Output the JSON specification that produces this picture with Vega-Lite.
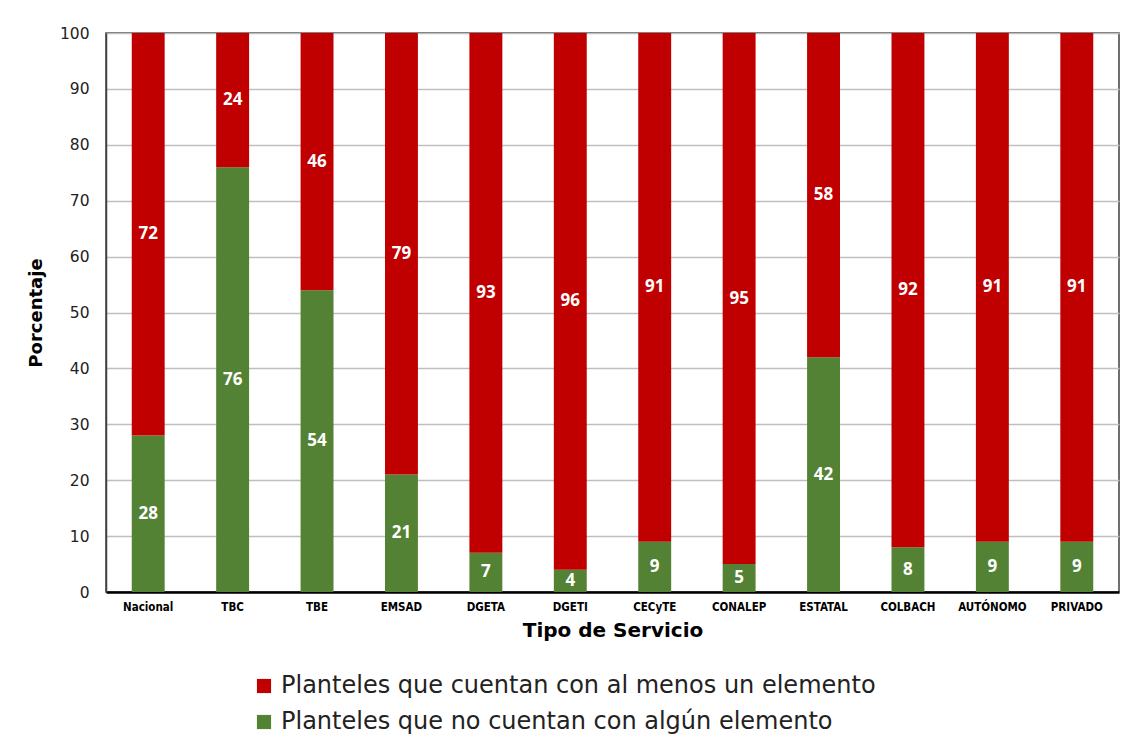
{
  "$schema": "https://vega.github.io/schema/vega-lite/v6.json",
  "width": 1013,
  "height": 559,
  "autosize": {"type": "none"},
  "padding": {"left": 106, "top": 33, "right": 3, "bottom": 153},
  "background": "white",
  "config": {
    "view": {"stroke": "#404040", "strokeWidth": 1.5},
    "font": "DejaVu Sans"
  },
  "data": {
    "values": [
      {"servicio": "Nacional", "serie": "Planteles que no cuentan con algún elemento", "valor": 28},
      {"servicio": "Nacional", "serie": "Planteles que cuentan con al menos un elemento", "valor": 72},
      {"servicio": "TBC", "serie": "Planteles que no cuentan con algún elemento", "valor": 76},
      {"servicio": "TBC", "serie": "Planteles que cuentan con al menos un elemento", "valor": 24},
      {"servicio": "TBE", "serie": "Planteles que no cuentan con algún elemento", "valor": 54},
      {"servicio": "TBE", "serie": "Planteles que cuentan con al menos un elemento", "valor": 46},
      {"servicio": "EMSAD", "serie": "Planteles que no cuentan con algún elemento", "valor": 21},
      {"servicio": "EMSAD", "serie": "Planteles que cuentan con al menos un elemento", "valor": 79},
      {"servicio": "DGETA", "serie": "Planteles que no cuentan con algún elemento", "valor": 7},
      {"servicio": "DGETA", "serie": "Planteles que cuentan con al menos un elemento", "valor": 93},
      {"servicio": "DGETI", "serie": "Planteles que no cuentan con algún elemento", "valor": 4},
      {"servicio": "DGETI", "serie": "Planteles que cuentan con al menos un elemento", "valor": 96},
      {"servicio": "CECyTE", "serie": "Planteles que no cuentan con algún elemento", "valor": 9},
      {"servicio": "CECyTE", "serie": "Planteles que cuentan con al menos un elemento", "valor": 91},
      {"servicio": "CONALEP", "serie": "Planteles que no cuentan con algún elemento", "valor": 5},
      {"servicio": "CONALEP", "serie": "Planteles que cuentan con al menos un elemento", "valor": 95},
      {"servicio": "ESTATAL", "serie": "Planteles que no cuentan con algún elemento", "valor": 42},
      {"servicio": "ESTATAL", "serie": "Planteles que cuentan con al menos un elemento", "valor": 58},
      {"servicio": "COLBACH", "serie": "Planteles que no cuentan con algún elemento", "valor": 8},
      {"servicio": "COLBACH", "serie": "Planteles que cuentan con al menos un elemento", "valor": 92},
      {"servicio": "AUTÓNOMO", "serie": "Planteles que no cuentan con algún elemento", "valor": 9},
      {"servicio": "AUTÓNOMO", "serie": "Planteles que cuentan con al menos un elemento", "valor": 91},
      {"servicio": "PRIVADO", "serie": "Planteles que no cuentan con algún elemento", "valor": 9},
      {"servicio": "PRIVADO", "serie": "Planteles que cuentan con al menos un elemento", "valor": 91}
    ]
  },
  "transform": [
    {"calculate": "datum.serie === 'Planteles que no cuentan con algún elemento' ? 0 : 1", "as": "orden"},
    {"stack": "valor", "groupby": ["servicio"], "sort": [{"field": "orden", "order": "ascending"}], "as": ["y0", "y1"]},
    {"calculate": "(datum.y0 + datum.y1) / 2", "as": "ymid"}
  ],
  "encoding": {
    "x": {
      "field": "servicio",
      "type": "nominal",
      "sort": ["Nacional", "TBC", "TBE", "EMSAD", "DGETA", "DGETI", "CECyTE", "CONALEP", "ESTATAL", "COLBACH", "AUTÓNOMO", "PRIVADO"],
      "scale": {"paddingInner": 0.61, "paddingOuter": 0.305},
      "title": "Tipo de Servicio",
      "axis": {
        "labelAngle": 0,
        "labelFont": "'Liberation Sans Narrow', 'DejaVu Sans Condensed', 'Roboto Condensed', Roboto",
        "labelFontWeight": "bold",
        "labelFontSize": 11.5,
        "labelColor": "#000000",
        "labelPadding": 9,
        "ticks": false,
        "domainColor": "#000000",
        "domainWidth": 2.5,
        "titleFont": "DejaVu Sans",
        "titleFontSize": 20,
        "titleFontWeight": "bold",
        "titleColor": "#000000",
        "titlePadding": 8
      }
    }
  },
  "layer": [
    {
      "mark": {"type": "bar"},
      "encoding": {
        "y": {
          "field": "y0",
          "type": "quantitative",
          "scale": {"domain": [0, 100]},
          "title": "Porcentaje",
          "axis": {
            "values": [0, 10, 20, 30, 40, 50, 60, 70, 80, 90, 100],
            "grid": true,
            "gridColor": "#bfbfbf",
            "gridWidth": 1.3,
            "ticks": false,
            "domainColor": "#404040",
            "domainWidth": 1.5,
            "labelFontSize": 15.5,
            "labelColor": "#222222",
            "labelPadding": 17,
            "titleFontSize": 18,
            "titleFontWeight": "bold",
            "titleColor": "#000000",
            "titlePadding": 14
          }
        },
        "y2": {"field": "y1"},
        "color": {
          "field": "serie",
          "type": "nominal",
          "scale": {
            "domain": ["Planteles que cuentan con al menos un elemento", "Planteles que no cuentan con algún elemento"],
            "range": ["#c00000", "#548235"]
          },
          "legend": {
            "title": null,
            "orient": "none",
            "legendX": 146,
            "legendY": 641,
            "direction": "vertical",
            "symbolType": "square",
            "symbolSize": 200,
            "symbolStrokeWidth": 0,
            "labelFontSize": 24,
            "labelColor": "#222222",
            "labelLimit": 900,
            "rowPadding": 12,
            "labelOffset": 5
          }
        }
      }
    },
    {
      "mark": {"type": "text", "color": "white", "fontWeight": "bold", "fontSize": 17, "baseline": "middle", "font": "Open Sans"},
      "encoding": {
        "y": {"field": "ymid", "type": "quantitative"},
        "text": {"field": "valor", "type": "quantitative"}
      }
    }
  ]
}
